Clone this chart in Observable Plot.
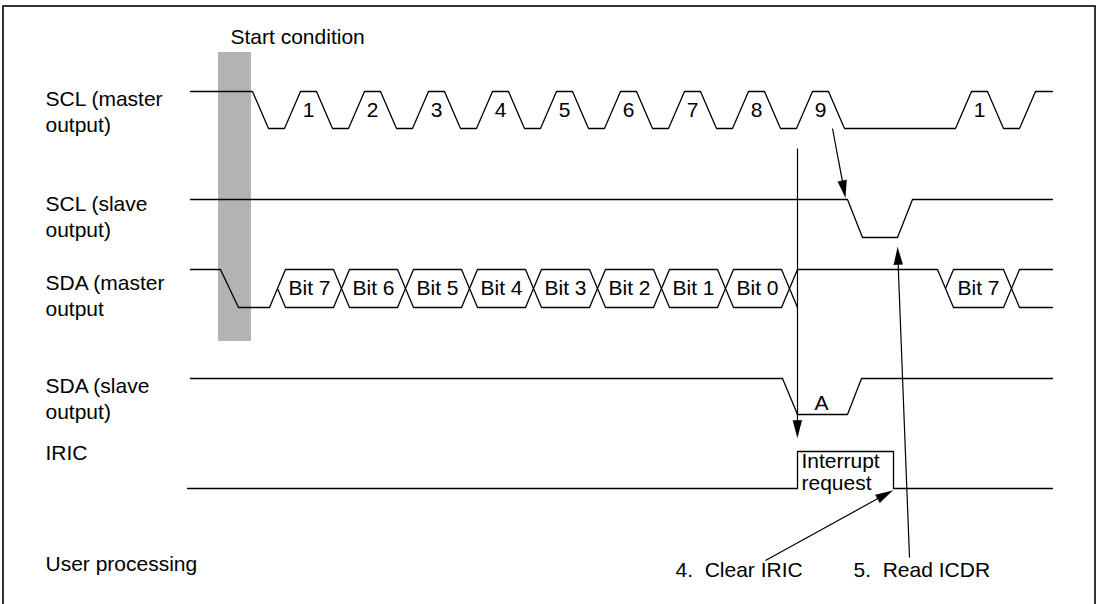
<!DOCTYPE html>
<html>
<head>
<meta charset="utf-8">
<script src="https://cdn.jsdelivr.net/npm/d3@7"></script>
<script src="https://cdn.jsdelivr.net/npm/@observablehq/plot@0.6"></script>
<style>
  html, body { margin: 0; padding: 0; background: #fff; }
  svg { display: block; }
</style>
</head>
<body>
<div id="chart"></div>
<script>
// ---------- data (times in picture units along the horizontal axis; 1 = high, 0 = low, 0.5 = mid) ----------
const sclMasterWave = [[190,1],[252,1],[268,0],[284,0],[300,1],[316,1],[332,0],[348,0],[364,1],[380,1],[396,0],[412,0],
  [428,1],[444,1],[460,0],[476,0],[492,1],[508,1],[524,0],[540,0],[556,1],[572,1],[588,0],[604,0],[620,1],[636,1],
  [652,0],[668,0],[684,1],[700,1],[716,0],[732,0],[748,1],[764,1],[780,0],[796,0],[812,1],[828,1],[844,0],[955,0],
  [971,1],[987,1],[1003,0],[1019,0],[1035,1],[1052,1]];
const clockPulseTimes = [308,372,436,500,564,628,692,756,820,979];
const clockPulseLabels = ["1","2","3","4","5","6","7","8","9","1"];

const sclSlaveWave = [[190,1],[847,1],[862,0],[897,0],[912,1],[1052,1]];

const sdaMasterLead = [[190,1],[220,1],[238,0],[269,0],[277,0.5]];
const sdaBitEdges = [277,341,405,469,533,597,661,725,789];
const sdaBitLabels = ["Bit 7","Bit 6","Bit 5","Bit 4","Bit 3","Bit 2","Bit 1","Bit 0"];
const sdaMasterRelease = [[789,0.5],[797,1],[937,1],[945,0.5]];
const sdaMasterReleaseLow = [[789,0.5],[797,0]];
const sdaNextEdges = [945,1011];
const sdaNextLabels = ["Bit 7"];
const sdaMasterTailHigh = [[1011,0.5],[1019,1],[1052,1]];
const sdaMasterTailLow = [[1011,0.5],[1019,0],[1052,0]];

const sdaSlaveWave = [[190,1],[782,1],[797,0],[847,0],[861,1],[1052,1]];
const ackLabel = ["A", 821];

const iricWave = [[187,0],[797,0],[797,1],[893,1],[893,0],[1052,0]];
const iricNote = ["Interrupt", "request"];

const signalNames = [["SCL (master", "output)"], ["SCL (slave", "output)"], ["SDA (master", "output"], ["SDA (slave", "output)"], ["IRIC"], ["User processing"]];

const startCondition = {label: "Start condition", from: 218, to: 251};
const steps = ["4.\u00a0 Clear IRIC", "5.\u00a0 Read ICDR"];
const stepTimes = [675, 853];

// arrows: tail -> tip
const arrowList = [
  {x1: 832, y1: 128, x2: 845, y2: 197},
  {x1: 797, y1: 148, x2: 797, y2: 437},
  {x1: 765, y1: 560, x2: 892, y2: 490},
  {x1: 909, y1: 557, x2: 897, y2: 247}
];

// ---------- layout ----------
const rowLevels = {
  sclM: {hi: 91, lo: 128},
  sclS: {hi: 199, lo: 237},
  sdaM: {hi: 269, lo: 307},
  sdaS: {hi: 378, lo: 414},
  iric: {hi: 451, lo: 488}
};
const labelY = [[99, 125], [204, 230], [283, 309], [386, 412], [453], [564]];
const slope = 8;
const font = "Liberation Sans, Arial, Helvetica, sans-serif";
const fs = 21;

const lev = (row, v) => row.lo + (row.hi - row.lo) * v;
let segs = [];
let sid = 0;
function addPath(pts, row) {
  const id = sid++;
  for (const [t, v] of pts) segs.push({id, x: t, y: lev(row, v)});
}
addPath(sclMasterWave, rowLevels.sclM);
addPath(sclSlaveWave, rowLevels.sclS);
addPath(sdaSlaveWave, rowLevels.sdaS);
addPath(iricWave, rowLevels.iric);
addPath(sdaMasterLead, rowLevels.sdaM);
addPath(sdaMasterRelease, rowLevels.sdaM);
addPath(sdaMasterReleaseLow, rowLevels.sdaM);
addPath(sdaMasterTailHigh, rowLevels.sdaM);
addPath(sdaMasterTailLow, rowLevels.sdaM);

const bitText = [];
function addHexes(edges, labels) {
  for (let i = 0; i < labels.length; i++) {
    const L = edges[i], R = edges[i + 1];
    addPath([[L,0.5],[L+slope,1],[R-slope,1],[R,0.5],[R-slope,0],[L+slope,0],[L,0.5]], rowLevels.sdaM);
    bitText.push({x: (L + R) / 2, y: lev(rowLevels.sdaM, 0.5), text: labels[i]});
  }
}
addHexes(sdaBitEdges, sdaBitLabels);
addHexes(sdaNextEdges, sdaNextLabels);

const pulseText = clockPulseTimes.map((t, i) => ({x: t, y: lev(rowLevels.sclM, 0.5), text: clockPulseLabels[i]}));
pulseText.push({x: ackLabel[1], y: 403, text: ackLabel[0]});

const startText = [];
signalNames.forEach((lines, i) => lines.forEach((s, j) => startText.push({x: 45, y: labelY[i][j], text: s})));
startText.push(
  {x: 230, y: 37, text: startCondition.label},
  {x: 801, y: 461, text: iricNote[0]},
  {x: 801, y: 483, text: iricNote[1]},
  {x: stepTimes[0], y: 570, text: steps[0]},
  {x: stepTimes[1], y: 570, text: steps[1]}
);

// arrow heads as filled triangles
const heads = [];
arrowList.forEach((a, i) => {
  const dx = a.x2 - a.x1, dy = a.y2 - a.y1, len = Math.hypot(dx, dy);
  const ux = dx / len, uy = dy / len, nx = -uy, ny = ux;
  const L = 17, Wd = 4.5;
  heads.push({id: i, x: a.x2, y: a.y2});
  heads.push({id: i, x: a.x2 - L * ux + Wd * nx, y: a.y2 - L * uy + Wd * ny});
  heads.push({id: i, x: a.x2 - L * ux - Wd * nx, y: a.y2 - L * uy - Wd * ny});
});
const shafts = arrowList.map(a => {
  const dx = a.x2 - a.x1, dy = a.y2 - a.y1, len = Math.hypot(dx, dy);
  return {x1: a.x1, y1: a.y1, x2: a.x2 - 10 * dx / len, y2: a.y2 - 10 * dy / len};
});

const chart = Plot.plot({
  width: 1098,
  height: 604,
  margin: 0,
  style: {background: "#fff", fontFamily: font},
  x: {domain: [0, 1098], range: [0, 1098], axis: null},
  y: {domain: [0, 604], range: [0, 604], axis: null},
  marks: [
    Plot.rect([startCondition], {x1: "from", x2: "to", y1: () => 52, y2: () => 341, fill: "#b3b3b3"}),
    Plot.rect([{}], {x1: () => 3, x2: () => 1095, y1: () => 6, y2: () => 612, fill: "none", stroke: "black", strokeWidth: 1.6}),
    Plot.line(segs, {x: "x", y: "y", z: "id", stroke: "black", strokeWidth: 1.3, curve: "linear"}),
    Plot.link(shafts, {x1: "x1", y1: "y1", x2: "x2", y2: "y2", stroke: "black", strokeWidth: 1.2}),
    Plot.line(heads, {x: "x", y: "y", z: "id", fill: "black", stroke: "black", strokeWidth: 0.5}),
    Plot.text(pulseText, {x: "x", y: "y", text: "text", fontSize: fs, fill: "black", fontFamily: font}),
    Plot.text(bitText, {x: "x", y: "y", text: "text", fontSize: fs, fill: "black", fontFamily: font}),
    Plot.text(startText, {x: "x", y: "y", text: "text", textAnchor: "start", fontSize: fs, fill: "black", fontFamily: font})
  ]
});
document.getElementById("chart").appendChild(chart);
</script>
</body>
</html>
